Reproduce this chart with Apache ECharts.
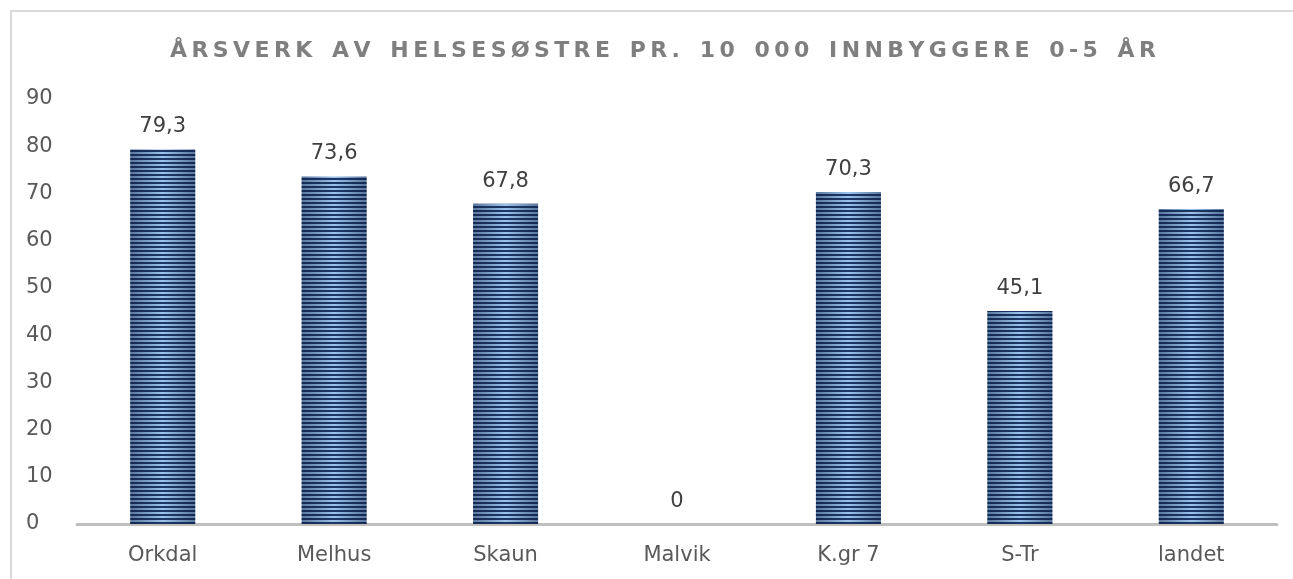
<!DOCTYPE html>
<html>
<head>
<meta charset="utf-8">
<script src="https://cdn.jsdelivr.net/npm/echarts@6/dist/echarts.min.js"></script>
<style>
  html, body { margin: 0; padding: 0; background: #fff; }
  #chart { width: 1293px; height: 579px; }
</style>
</head>
<body>
<div id="chart"></div>
<script>
// Årsverk av helsesøstre per 10 000 innbyggere 0-5 år
const titleText = 'ÅRSVERK AV HELSESØSTRE PR. 10 000 INNBYGGERE 0-5 ÅR';
const categories = ['Orkdal', 'Melhus', 'Skaun', 'Malvik', 'K.gr 7', 'S-Tr', 'landet'];
const values = [79.3, 73.6, 67.8, 0, 70.3, 45.1, 66.7];
const yTicks = [0, 10, 20, 30, 40, 50, 60, 70, 80, 90];

const FONT = '"DejaVu Sans", "Open Sans", sans-serif';

// Spread the title letters out (wide tracking)
function spaced(s) {
  return s.split(' ')
    .map(w => w.split('').join('\u2009'))
    .join('\u2009\u2002\u2009');
}

// Horizontal stripe fill for the bars
function stripeCanvas() {
  const c = document.createElement('canvas');
  c.width = 8; c.height = 4;
  const g = c.getContext('2d');
  g.fillStyle = '#9cc3ec';
  g.fillRect(0, 0, 8, 4);
  g.fillStyle = '#1d3866';
  g.fillRect(0, 2, 8, 2);
  return c;
}

const chart = echarts.init(document.getElementById('chart'), null, { renderer: 'canvas' });

chart.setOption({
  animation: false,
  backgroundColor: '#ffffff',
  title: {
    text: spaced(titleText),
    left: 658,
    top: 35,
    textAlign: 'center',
    textStyle: {
      fontFamily: FONT,
      fontSize: 22,
      fontWeight: 'bold',
      color: '#7f7f7f'
    }
  },
  graphic: [
    {
      type: 'polyline',
      shape: { points: [[11, 579], [11, 11], [1293, 11]] },
      style: { stroke: '#d9d9d9', lineWidth: 2, fill: null },
      silent: true
    }
  ],
  grid: { left: 77, right: 16, top: 99, bottom: 55, containLabel: false },
  xAxis: {
    type: 'category',
    data: categories,
    axisLine: { show: true, lineStyle: { color: '#bfbfbf', width: 3 } },
    axisTick: { show: false },
    axisLabel: {
      color: '#595959',
      fontFamily: FONT,
      fontSize: 21,
      margin: 21
    }
  },
  yAxis: {
    type: 'value',
    min: 0,
    max: 90,
    interval: 10,
    axisLine: { show: false },
    axisTick: { show: false },
    splitLine: { show: false },
    axisLabel: {
      color: '#595959',
      fontFamily: FONT,
      fontSize: 21,
      align: 'left',
      margin: 51,
      formatter: v => (yTicks.includes(v) ? String(v) : '')
    }
  },
  series: [
    {
      type: 'bar',
      data: values,
      barWidth: 65,
      itemStyle: {
        color: { image: stripeCanvas(), repeat: 'repeat' }
      },
      label: {
        show: true,
        position: 'top',
        distance: 12,
        color: '#404040',
        fontFamily: FONT,
        fontSize: 21,
        formatter: p => String(p.value).replace('.', ',')
      },
      z: 2
    },
    {
      // shading across each bar: darker edges, lighter middle
      type: 'bar',
      data: values,
      barWidth: 65,
      barGap: '-100%',
      silent: true,
      itemStyle: {
        color: {
          type: 'linear', x: 0, y: 0, x2: 1, y2: 0,
          colorStops: [
            { offset: 0, color: 'rgba(10,25,60,0.45)' },
            { offset: 0.5, color: 'rgba(10,25,60,0)' },
            { offset: 1, color: 'rgba(10,25,60,0.45)' }
          ]
        }
      },
      z: 3
    }
  ]
});
</script>
</body>
</html>
